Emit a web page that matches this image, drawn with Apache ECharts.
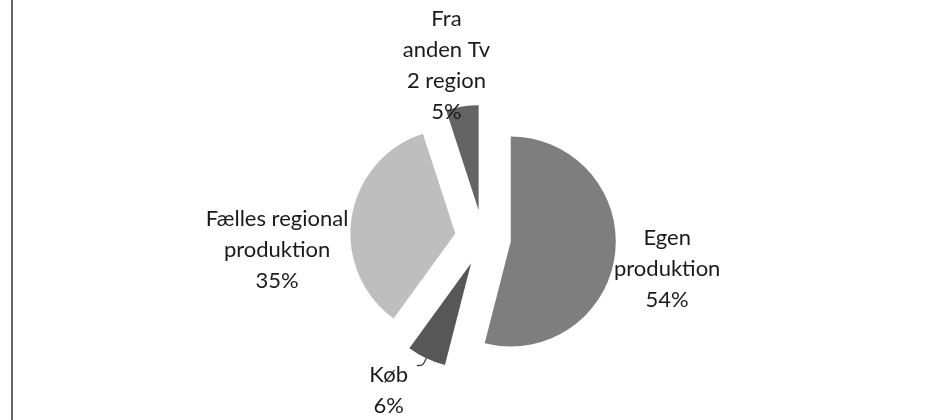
<!DOCTYPE html>
<html lang="da">

<head>
    <meta charset="UTF-8">
    <title>Programkilder</title>
    <script type="text/javascript" src="https://cdn.jsdelivr.net/npm/echarts@6/dist/echarts.min.js"></script>
    <style>
        body {
            margin: 0;
            background-color: #ffffff;
            overflow: hidden;
        }
    </style>
</head>

<body>
    <div style="width: 943px; height: 420px" id="container"></div>
</body>
<script>
    var dom = document.getElementById("container");
    var myChart = echarts.init(dom);

    // data, in pie order (clockwise from 12 o'clock)
    let names = ['Egen\nproduktion', 'Køb', 'Fælles regional\nproduktion', 'Fra\nanden Tv\n2 region'];
    let values = [54, 6, 35, 5];
    let colors = ['#7e7e7e', '#575757', '#bebebe', '#646464'];

    // nudges so the labels sit where Excel put them
    let labelShift = [
        { dx: -6, dy: 14 },
        { dx: -4, dy: 25 },
        { dx: -2, dy: 18 },
        { dx: 33, dy: -41 }
    ];

    let pieData = names.map(function (n, i) {
        return {
            name: n,
            value: values[i],
            selected: true,
            itemStyle: { color: colors[i] },
            labelLine: i === 1 ? { show: true, length: 8, length2: 6 } : { show: false, length: 0, length2: 0 }
        };
    });

    var option = {
        animation: false,
        backgroundColor: '#ffffff',
        graphic: [{
            type: 'line',
            shape: { x1: 12, y1: 0, x2: 12, y2: 420 },
            style: { stroke: '#333333', lineWidth: 1.5 }
        }],
        series: [{
            type: 'pie',
            radius: 105,
            center: [483, 238],
            startAngle: 90,
            selectedMode: 'multiple',
            selectedOffset: 28,
            data: pieData,
            emphasis: { disabled: true },
            label: {
                position: 'outside',
                distanceToLabelLine: 5,
                formatter: function (params) {
                    let rows = params.name.split('\n').map(function (s) { return '{t|' + s + '}'; });
                    rows.push('{t|' + Math.round(params.percent) + '%}');
                    return rows.join('\n');
                },
                rich: {
                    t: {
                        align: 'center',
                        fontFamily: 'Lato',
                        fontSize: 22,
                        lineHeight: 31,
                        color: '#1a1a1a'
                    }
                }
            },
            labelLine: {
                smooth: 0.3,
                lineStyle: { color: '#333333', width: 1.2 }
            },
            labelLayout: function (params) {
                return labelShift[params.dataIndex];
            }
        }]
    };
    if (option && typeof option === 'object') {
        myChart.setOption(option);
    }
</script>

</html>
